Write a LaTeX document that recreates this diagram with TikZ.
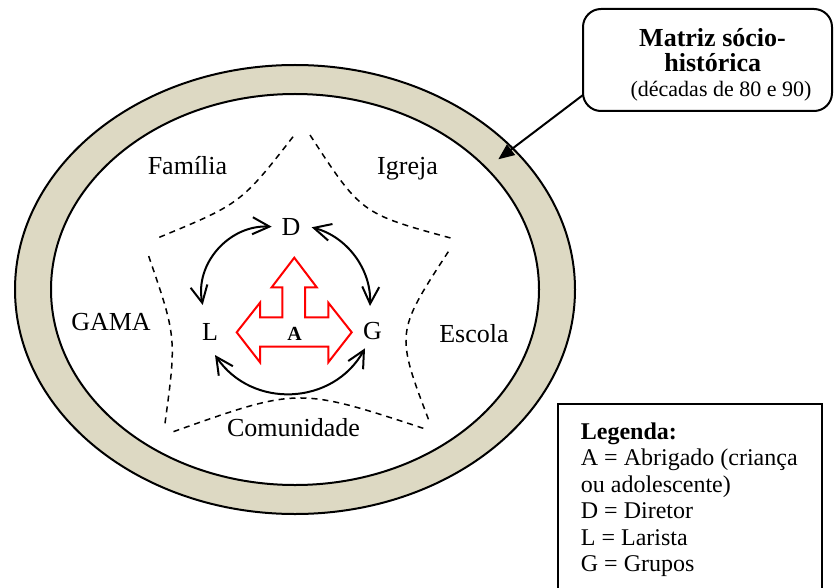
\documentclass[tikz,border=0pt]{standalone}
\usepackage{fontspec}
\setmainfont{Liberation Serif}
\usetikzlibrary{arrows.meta}
\definecolor{band}{RGB}{221,217,195}
\begin{document}
\begin{tikzpicture}[x=1pt,y=-1pt,
  lbl/.style={inner sep=0pt, anchor=base, font=\fontsize{26}{30}\selectfont},
  boldA/.style={inner sep=0pt, anchor=base, font=\fontsize{20}{24}\selectfont\bfseries},
  title/.style={inner sep=0pt, anchor=base, font=\fontsize{26}{30}\selectfont\bfseries},
  subtitle/.style={inner sep=0pt, anchor=base, font=\fontsize{22}{26}\selectfont},
  legline/.style={inner sep=0pt, anchor=base west, font=\fontsize{24}{28}\selectfont},
  region/.style={draw=black, line width=1.5pt, dash pattern=on 6pt off 5pt},
  rel/.style={draw=black, line width=2pt, {Straight Barb[length=17pt,width=17pt]}-{Straight Barb[length=17pt,width=17pt]}},
  ring/.style={draw=black, line width=2pt},
  redshape/.style={draw=red, line width=2pt, line join=miter},
  callbox/.style={draw=black, line width=2pt, rounded corners=18pt, minimum width=249pt, minimum height=102pt, inner sep=0pt},
  pointer/.style={draw=black, line width=2pt, -{Triangle[length=16pt,width=13pt]}}
]
\useasboundingbox (0,0) rectangle (834,588);

% ring (socio-historical matrix)
\draw[ring, fill=band] (295,289.5) ellipse [x radius=280pt, y radius=224.5pt];
\draw[ring, fill=white] (295,289.5) ellipse [x radius=244pt, y radius=195.5pt];

% dashed concave star
\coordinate (p1) at (159.3,237.3);
\coordinate (p2) at (295.7,133.3);
\coordinate (q1) at (241.2,203.4);
\coordinate (p3) at (310,135);
\coordinate (p4) at (451.7,238.3);
\coordinate (q2) at (361.2,213.6);
\coordinate (p5) at (448.3,251.7);
\coordinate (p6) at (430,423.3);
\coordinate (q3) at (395.4,332.8);
\coordinate (p7) at (423.3,428.3);
\coordinate (p8) at (173.3,431.7);
\coordinate (q4) at (298.3,387.3);
\coordinate (p9) at (165,423.3);
\coordinate (p10) at (148.3,255);
\coordinate (q5) at (176.6,337.2);
\draw[region] (p1) .. controls (q1) .. (p2);
\draw[region] (p3) .. controls (q2) .. (p4);
\draw[region] (p5) .. controls (q3) .. (p6);
\draw[region] (p7) .. controls (q4) .. (p8);
\draw[region] (p9) .. controls (q5) .. (p10);

% outer labels
\node[lbl] (familia) at (187.5,175) {Família};
\node[lbl] (igreja) at (407.5,175) {Igreja};
\node[lbl] (gama) at (111,330) {GAMA};
\node[lbl] (escola) at (474,342) {Escola};
\node[lbl] (comunidade) at (293.5,436) {Comunidade};

% red arrow shape (A)
\draw[redshape] (294.3,257.7) -- (316.7,287.3) -- (305,287.3) -- (305,317.3)
  -- (328.3,317.3) -- (328.3,302.7) -- (351.7,332.3) -- (328.3,362.3)
  -- (328.3,346.7) -- (260,346.7) -- (260,362.3) -- (236.7,332.3)
  -- (260,302.7) -- (260,317.3) -- (282.3,317.3) -- (282.3,287.3)
  -- (271.7,287.3) -- cycle;

% letters
\node[lbl] (D) at (291,235) {D};
\node[lbl] (L) at (210,340) {L};
\node[lbl] (G) at (372.5,339.5) {G};
\node[boldA] (A) at (294.7,340) {A};

% relations
\coordinate (dl1) at (271.7,226.7);
\coordinate (dl2) at (202.7,305);
\coordinate (dlc1) at (229.4,224.6);
\coordinate (dlc2) at (194.5,263.5);
\coordinate (dg1) at (311.7,227.3);
\coordinate (dg2) at (370,306);
\coordinate (dgc1) at (347.1,236.7);
\coordinate (dgc2) at (371.4,269.4);
\coordinate (lg1) at (215,355);
\coordinate (lg2) at (365,348.3);
\coordinate (lgc1) at (251.9,409.4);
\coordinate (lgc2) at (333.1,405.7);
\draw[rel] (dl1) .. controls (dlc1) and (dlc2) .. (dl2);
\draw[rel] (dg1) .. controls (dgc1) and (dgc2) .. (dg2);
\draw[rel] (lg1) .. controls (lgc1) and (lgc2) .. (lg2);

% callout
\node[callbox] (callout) at (707.5,60) {};
\node[title] (t1) at (712.5,47) {Matriz sócio-};
\node[title] (t2) at (712.7,72) {histórica};
\node[subtitle] (t3) at (721,97) {(décadas de 80 e 90)};
\coordinate (cs) at (583,95);
\coordinate (ct) at (498.3,159.3);
\draw[pointer] (cs) -- (ct);

% legend
\coordinate (b1) at (558,588);
\coordinate (b2) at (558,404);
\coordinate (b3) at (822,404);
\coordinate (b4) at (822,588);
\draw[line width=2pt] (b1) -- (b2) -- (b3) -- (b4);
\node[legline] (l1) at (580.7,439) {\textbf{Legenda:}};
\node[legline] (l2) at (580.7,465.5) {A = Abrigado (criança};
\node[legline] (l3) at (580.7,492) {ou adolescente)};
\node[legline] (l4) at (580.7,518.5) {D = Diretor};
\node[legline] (l5) at (580.7,545) {L = Larista};
\node[legline] (l6) at (580.7,571.5) {G = Grupos};
\end{tikzpicture}
\end{document}
